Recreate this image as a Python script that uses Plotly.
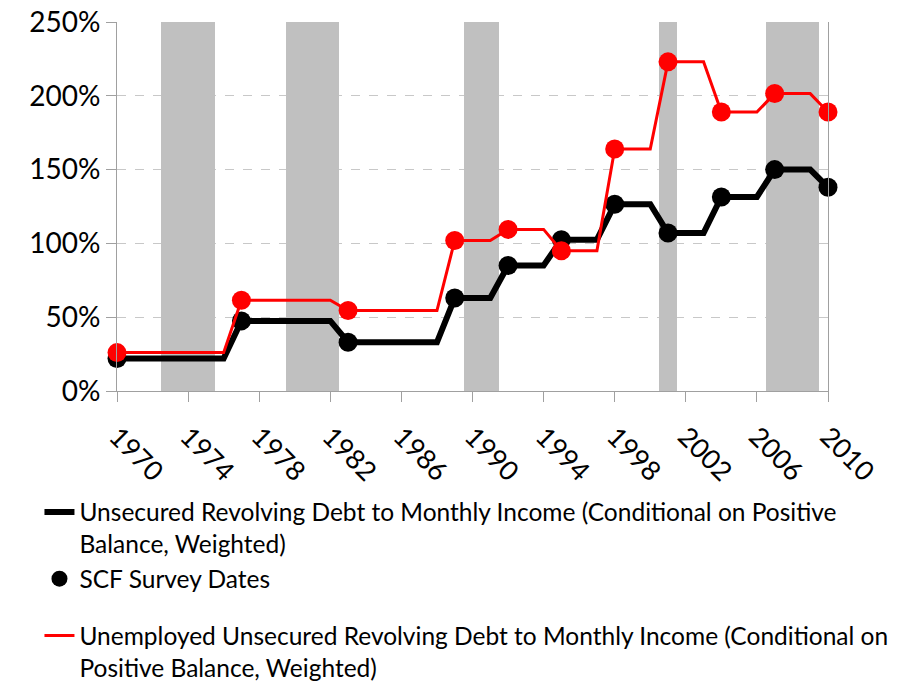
import plotly.graph_objects as go

# Yearly series (values held between SCF survey years)
years = list(range(1970, 2011))
debt_all = [22, 22, 22, 22, 22, 22, 22,
            47.5, 47.5, 47.5, 47.5, 47.5, 47.5,
            33, 33, 33, 33, 33, 33,
            63, 63, 63,
            85, 85, 85,
            102.5, 102.5, 102.5,
            126.5, 126.5, 126.5,
            107, 107, 107,
            131.5, 131.5, 131.5,
            150, 150, 150,
            138]
debt_unemp = [26, 26, 26, 26, 26, 26, 26,
              61.5, 61.5, 61.5, 61.5, 61.5, 61.5,
              54.5, 54.5, 54.5, 54.5, 54.5, 54.5,
              102, 102, 102,
              109.5, 109.5, 109.5,
              95, 95, 95,
              164, 164, 164,
              223, 223, 223,
              189, 189, 189,
              201.5, 201.5, 201.5,
              189]

# SCF survey dates
survey_years = [1970, 1977, 1983, 1989, 1992, 1995, 1998, 2001, 2004, 2007, 2010]
survey_all = [22, 47.5, 33, 63, 85, 102.5, 126.5, 107, 131.5, 150, 138]
survey_unemp = [26, 61.5, 54.5, 102, 109.5, 95, 164, 223, 189, 201.5, 189]

# Recession years (shaded)
recession_years = [1973, 1974, 1975, 1980, 1981, 1982, 1990, 1991, 2001, 2007, 2008, 2009]
recession_top = [250, 250, 250, 250, 250, 250, 250, 250, 250, 250, 250, 250]

FONT = "Lato, 'Noto Sans', sans-serif"

fig = go.Figure()

fig.add_trace(go.Bar(
    x=recession_years, y=recession_top, width=1,
    marker=dict(color="#C0C0C0", line=dict(width=0)),
    showlegend=False, hoverinfo="skip"
))

fig.add_trace(go.Scatter(
    x=years, y=debt_all, mode="lines",
    line=dict(color="black", width=6),
    name="Unsecured Revolving Debt to Monthly Income (Conditional on Positive<br>Balance, Weighted)",
    legendgroup="g1", cliponaxis=False
))
fig.add_trace(go.Scatter(
    x=survey_years, y=survey_all, mode="markers",
    marker=dict(color="black", size=19),
    name="SCF Survey Dates",
    legendgroup="g1", cliponaxis=False
))
fig.add_trace(go.Scatter(
    x=years, y=debt_unemp, mode="lines",
    line=dict(color="#FF0000", width=3),
    name="Unemployed Unsecured Revolving Debt to Monthly Income (Conditional on<br>Positive Balance, Weighted)",
    legendgroup="g2", cliponaxis=False
))
fig.add_trace(go.Scatter(
    x=survey_years, y=survey_unemp, mode="markers",
    marker=dict(color="#FF0000", size=19),
    showlegend=False, legendgroup="g2", cliponaxis=False
))

fig.update_layout(
    width=901, height=683,
    margin=dict(l=117, r=73, t=22, b=292, autoexpand=False),
    plot_bgcolor="white", paper_bgcolor="white",
    font=dict(family=FONT, color="black", size=24),
    bargap=0,
    legend=dict(
        xref="container", yref="container",
        x=0.0438, y=0.2833, xanchor="left", yanchor="top",
        font=dict(size=24.5), valign="top",
        tracegroupgap=22, bgcolor="rgba(0,0,0,0)"
    ),
    xaxis=dict(
        range=[1970, 2010], tick0=1970, dtick=4,
        tickangle=45, ticks="outside", ticklen=10, tickcolor="#A0A0A0",
        showline=True, linecolor="#A0A0A0", linewidth=1,
        showgrid=False, zeroline=False, ticklabeloverflow="allow",
        tickfont=dict(size=27), automargin=False, ticklabelstandoff=8
    ),
    yaxis=dict(
        range=[0, 250], dtick=50, ticksuffix="%",
        ticks="outside", ticklen=10, tickcolor="#A0A0A0",
        showline=True, linecolor="#A0A0A0", linewidth=1, mirror=True,
        showgrid=True, gridcolor="#C8C8C8", griddash="dash",
        zeroline=False, tickfont=dict(size=28), automargin=False,
        ticklabeloverflow="allow"
    )
)

# drop the page's default body margin so the figure sits at the window's corner
fig.write_html("out.html", config={"displayModeBar": False},
               post_script="document.body.style.margin='0';")
